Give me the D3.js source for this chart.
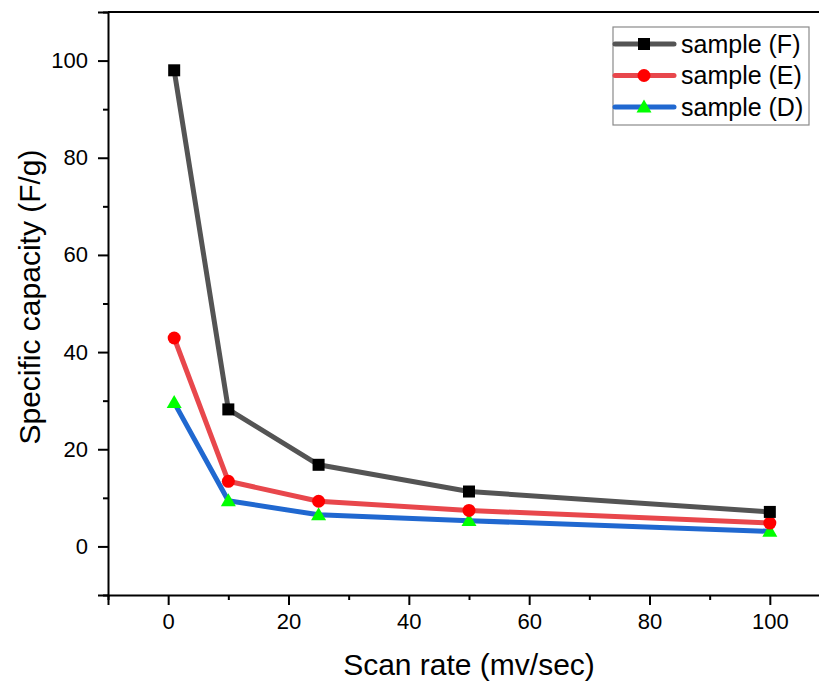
<!DOCTYPE html>
<html>
<head>
<meta charset="utf-8">
<script src="https://cdn.jsdelivr.net/npm/d3@7"></script>
<style>
  html, body { margin: 0; padding: 0; background: #fff; }
  svg { display: block; font-family: "Liberation Sans", Arial, sans-serif; }
</style>
</head>
<body>
<svg id="chart" width="819" height="685"></svg>
<script>
// Scan rates (mV/s) and specific capacity (F/g) per sample
const scanRates = [1, 10, 25, 50, 100];
const sampleF = [98.0, 28.2, 16.8, 11.3, 7.1];
const sampleE = [42.9, 13.4, 9.3, 7.4, 4.8];
const sampleD = [29.6, 9.4, 6.5, 5.3, 3.1];
const seriesNames = ["sample (F)", "sample (E)", "sample (D)"];
const xTicks = [0, 20, 40, 60, 80, 100];
const yTicks = [0, 20, 40, 60, 80, 100];

const series = [
  { name: seriesNames[0], values: sampleF, line: "#545454", fill: "#000000", marker: "square" },
  { name: seriesNames[1], values: sampleE, line: "#e8474c", fill: "#ff0000", marker: "circle" },
  { name: seriesNames[2], values: sampleD, line: "#2068d0", fill: "#00ff00", marker: "triangle" }
];

const svg = d3.select("#chart");
const plotLeft = 108, plotRight = 830, plotTop = 12, plotBottom = 595;

const x = d3.scaleLinear().domain([-10, 110]).range([plotLeft, plotRight]);
const y = d3.scaleLinear().domain([-10, 110]).range([plotBottom, plotTop]);

// frame (top and right edges)
svg.append("line").attr("x1", plotLeft).attr("x2", plotRight).attr("y1", plotTop).attr("y2", plotTop)
  .attr("stroke", "#000").attr("stroke-width", 2);
svg.append("line").attr("x1", plotRight).attr("x2", plotRight).attr("y1", plotTop).attr("y2", plotBottom)
  .attr("stroke", "#000").attr("stroke-width", 2);

// minor ticks
const minorX = d3.range(-10, 111, 10).filter(v => v % 20 !== 0);
const minorY = d3.range(-10, 111, 10).filter(v => v % 20 !== 0);

const xAxis = svg.append("g").attr("transform", `translate(0,${plotBottom})`)
  .call(d3.axisBottom(x).tickValues(xTicks).tickSize(10).tickPadding(8).tickFormat(d3.format("d")));
const yAxis = svg.append("g").attr("transform", `translate(${plotLeft},0)`)
  .call(d3.axisLeft(y).tickValues(yTicks).tickSize(10).tickPadding(10).tickFormat(d3.format("d")));

svg.append("g").attr("transform", `translate(0,${plotBottom})`)
  .call(d3.axisBottom(x).tickValues(minorX).tickSize(5).tickFormat(""))
  .call(g => g.select(".domain").remove());
svg.append("g").attr("transform", `translate(${plotLeft},0)`)
  .call(d3.axisLeft(y).tickValues(minorY).tickSize(5).tickFormat(""))
  .call(g => g.select(".domain").remove());

svg.selectAll(".domain").attr("stroke", "#000").attr("stroke-width", 2);
svg.selectAll(".tick line").attr("stroke", "#000").attr("stroke-width", 2);
[xAxis, yAxis].forEach(a => a.selectAll(".tick text")
  .attr("font-size", 22).attr("fill", "#000")
  .attr("font-family", "'Liberation Sans', Arial, sans-serif"));

// axis titles
svg.append("text").attr("x", 469).attr("y", 675).attr("text-anchor", "middle")
  .attr("font-size", 30).attr("fill", "#000").text("Scan rate (mv/sec)");
svg.append("text").attr("transform", `translate(40,297) rotate(-90)`)
  .attr("text-anchor", "middle").attr("font-size", 30).attr("fill", "#000")
  .text("Specific capacity (F/g)");

function drawMarker(g, type, cx, cy, fill) {
  if (type === "square") {
    g.append("rect").attr("x", cx - 6).attr("y", cy - 6).attr("width", 12).attr("height", 12).attr("fill", fill);
  } else if (type === "circle") {
    g.append("circle").attr("cx", cx).attr("cy", cy).attr("r", 6.5).attr("fill", fill);
  } else {
    const s = 7.5;
    g.append("path").attr("d", `M${cx},${cy - s}L${cx + s},${cy + s * 0.72}L${cx - s},${cy + s * 0.72}Z`).attr("fill", fill);
  }
}

const line = d3.line().x(d => x(d[0])).y(d => y(d[1]));
const plot = svg.append("g");

// draw series in reverse so F sits on top
series.slice().reverse().forEach(s => {
  const pts = scanRates.map((r, i) => [r, s.values[i]]);
  plot.append("path").datum(pts).attr("d", line).attr("fill", "none")
    .attr("stroke", s.line).attr("stroke-width", 5).attr("stroke-linejoin", "round");
});
series.slice().reverse().forEach(s => {
  const g = plot.append("g");
  scanRates.forEach((r, i) => drawMarker(g, s.marker, x(r), y(s.values[i]), s.fill));
});

// legend
const lg = svg.append("g");
lg.append("rect").attr("x", 613).attr("y", 27).attr("width", 196).attr("height", 98)
  .attr("fill", "#fff").attr("stroke", "#8a8a8a").attr("stroke-width", 1.2);
series.forEach((s, i) => {
  const cy = 44 + i * 31.5;
  lg.append("line").attr("x1", 615).attr("x2", 674).attr("y1", cy).attr("y2", cy)
    .attr("stroke", s.line).attr("stroke-width", 5).attr("stroke-linecap", "round");
  drawMarker(lg, s.marker, 644, cy, s.fill);
  lg.append("text").attr("x", 681).attr("y", cy + 8.5).attr("font-size", 25).attr("fill", "#000").text(s.name);
});
</script>
</body>
</html>
